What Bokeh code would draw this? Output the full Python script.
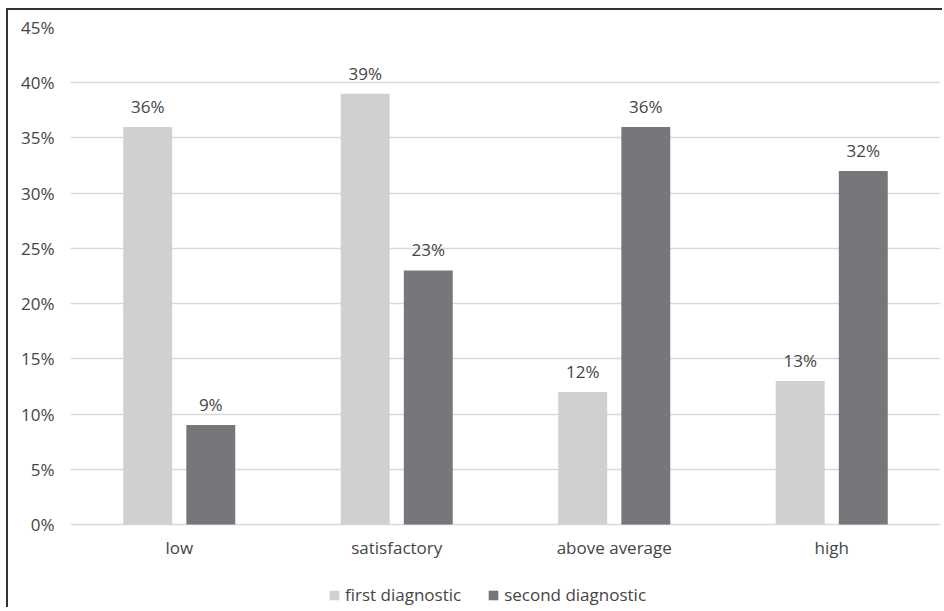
from bokeh.plotting import figure
from bokeh.models import ColumnDataSource, FactorRange, Legend, LegendItem, PrintfTickFormatter, FixedTicker
from bokeh.transform import dodge
from bokeh.core.properties import value
from bokeh.embed import file_html
from bokeh.resources import INLINE

categories = ["low", "satisfactory", "above average", "high"]
first_diagnostic = [36, 39, 12, 13]
second_diagnostic = [9, 23, 36, 32]
series_names = ["first diagnostic", "second diagnostic"]
y_ticks = [0, 5, 10, 15, 20, 25, 30, 35, 40, 45]

src = ColumnDataSource(dict(
    cat=categories,
    zero=[0] * len(categories),
    first=first_diagnostic,
    second=second_diagnostic,
    first_lbl=[f"{v}%" for v in first_diagnostic],
    second_lbl=[f"{v}%" for v in second_diagnostic],
))

FONT = "Open Sans"
FS = "17px"
TXT = "#454545"
LIGHT = "#CFD0D2"
DARK = "#76777A"

# frame: 45 units over 497 px; extended below 0 to hold category labels and legend
PX_PER_UNIT = 497 / 45
FRAME_H = 580
Y_MIN = 45 - FRAME_H / PX_PER_UNIT

p = figure(x_range=FactorRange(*categories, range_padding=0), y_range=(Y_MIN, 45),
           frame_width=870, frame_height=FRAME_H, output_backend="svg", toolbar_location=None,
           min_border_left=62, min_border_right=2, min_border_top=17, min_border_bottom=0)
p.margin = (8, 0, 0, 6)
p.styles = {"border-left": "2px solid #333333", "border-top": "2px solid #333333"}
p.outline_line_color = None
p.background_fill_color = "white"

r1 = p.vbar(x=dodge("cat", -0.145, range=p.x_range), top="first", width=0.225, source=src,
            fill_color=LIGHT, line_color=None)
r2 = p.vbar(x=dodge("cat", 0.145, range=p.x_range), top="second", width=0.225, source=src,
            fill_color=DARK, line_color=None)

p.text(x=dodge("cat", -0.145, range=p.x_range), y="first", text="first_lbl", source=src,
       text_align="center", text_baseline="bottom", y_offset=-9,
       text_font=value(FONT), text_font_size=FS, text_color=TXT)
p.text(x=dodge("cat", 0.145, range=p.x_range), y="second", text="second_lbl", source=src,
       text_align="center", text_baseline="bottom", y_offset=-9,
       text_font=value(FONT), text_font_size=FS, text_color=TXT)

# category labels under the zero line
p.text(x="cat", y="zero", text="cat", source=src,
       text_align="center", text_baseline="middle", y_offset=23,
       text_font=value(FONT), text_font_size=FS, text_color=TXT)

p.xaxis.visible = False
p.yaxis.ticker = FixedTicker(ticks=y_ticks)
p.yaxis.formatter = PrintfTickFormatter(format="%d%%")
ax = p.yaxis[0]
ax.axis_line_color = None
ax.major_tick_line_color = None
ax.minor_tick_line_color = None
ax.major_tick_out = 0
ax.major_label_text_font = FONT
ax.major_label_text_font_size = FS
ax.major_label_text_color = TXT
ax.major_label_standoff = 16

p.xgrid.grid_line_color = None
p.ygrid.ticker = FixedTicker(ticks=y_ticks)
p.ygrid.grid_line_color = "#D9D9D9"
p.ygrid.grid_line_width = 1.5

legend = Legend(items=[LegendItem(label=series_names[0], renderers=[r1]),
                       LegendItem(label=series_names[1], renderers=[r2])],
                orientation="horizontal", location=(258, 1),
                label_text_font=FONT, label_text_font_size=FS, label_text_color=TXT,
                glyph_width=12, glyph_height=12, spacing=26, label_standoff=5,
                border_line_color=None, background_fill_alpha=0, padding=0, margin=0)
p.add_layout(legend, "center")

open("out.html", "w").write(file_html(p, INLINE))
